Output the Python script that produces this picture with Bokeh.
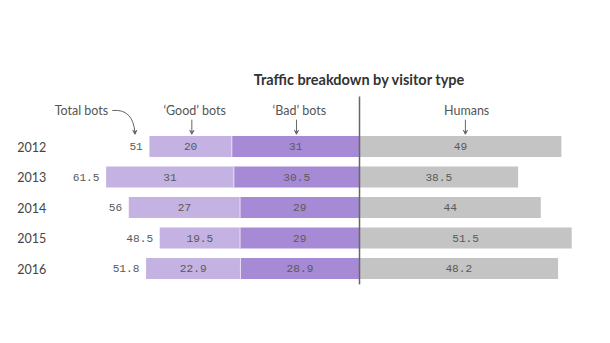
from bokeh.plotting import figure
from bokeh.models import ColumnDataSource, Range1d, Arrow, VeeHead, Label
from bokeh.core.properties import value
from bokeh.embed import file_html
from bokeh.resources import INLINE

years = ["2012", "2013", "2014", "2015", "2016"]
good_bots = [20, 31, 27, 19.5, 22.9]
bad_bots = [31, 30.5, 29, 29, 28.9]
total_bots = [51, 61.5, 56, 48.5, 51.8]
humans = [49, 38.5, 44, 51.5, 48.2]

def fmt(v):
    return ("%g" % v)

H = 0.69
rows = list(range(len(years)))
src = ColumnDataSource(dict(
    row=rows,
    year=years,
    good_left=[-t for t in total_bots],
    good_right=[-b for b in bad_bots],
    good_mid=[-(t + b) / 2 for t, b in zip(total_bots, bad_bots)],
    bad_left=[-b for b in bad_bots],
    bad_right=[0] * len(years),
    bad_mid=[-b / 2 for b in bad_bots],
    hum_right=humans,
    hum_mid=[h / 2 for h in humans],
    tot_x=[-t - 1.6 for t in total_bots],
    good_txt=[fmt(v) for v in good_bots],
    bad_txt=[fmt(v) for v in bad_bots],
    tot_txt=[fmt(v) for v in total_bots],
    hum_txt=[fmt(v) for v in humans],
    year_x=[-83.1] * len(years),
    top=[r - H / 2 for r in rows],
    bot=[r + H / 2 for r in rows],
))

p = figure(width=610, height=343, output_backend="svg", toolbar_location=None,
           x_range=Range1d(-87.14, 60.92), y_range=Range1d(6.459, -4.787),
           min_border=0, outline_line_color=None)
p.axis.visible = False
p.grid.visible = False
p.background_fill_color = "white"
p.border_fill_color = "white"

p.hbar(y="row", left="good_left", right="good_right", height=H, source=src,
       fill_color="#c4b2e2", line_color=None)
p.hbar(y="row", left="bad_left", right="bad_right", height=H, source=src,
       fill_color="#a78ad6", line_color=None)
p.hbar(y="row", left=0, right="hum_right", height=H, source=src,
       fill_color="#c4c4c4", line_color=None)
p.segment(x0="good_right", x1="good_right", y0="top", y1="bot", source=src,
          line_color="#e8e0f4", line_width=1)

mono = value("Liberation Mono")
sans = value("Lato")
for xcol, tcol, align in [("good_mid", "good_txt", "center"), ("bad_mid", "bad_txt", "center"),
                          ("hum_mid", "hum_txt", "center"), ("tot_x", "tot_txt", "right")]:
    p.text(x=xcol, y="row", text=tcol, source=src, text_font=mono,
           text_font_size="11.2px", text_color="#5a5a5a", text_align=align, text_baseline="middle")
p.text(x="year_x", y="row", text="year", source=src, text_font=sans,
       text_font_size="12.5px", text_color="#444444", text_align="left", text_baseline="middle")

p.segment(x0=[0], x1=[0], y0=[-1.64], y1=[4.52], line_color="#666666", line_width=1.5)

p.add_layout(Label(x=0, y=-2.2, text="Traffic breakdown by visitor type",
                   text_font="Lato", text_font_style="bold", text_font_size="14.5px",
                   text_color="#333333", text_align="center", text_baseline="middle"))

headers = ["Total bots", "\u2018Good\u2019 bots", "\u2018Bad\u2019 bots", "Humans"]
header_x = [-67.5, -40.0, -14.6, 26.0]
for t, x in zip(headers, header_x):
    p.add_layout(Label(x=x, y=-1.18, text=t, text_font="Lato", text_font_size="12.5px",
                       text_color="#555555", text_align="center", text_baseline="middle"))

arrow_x = [-40.7, -15.3, 25.7]
for x in arrow_x:
    p.add_layout(Arrow(x_start=x, y_start=-0.88, x_end=x, y_end=-0.40,
                       line_color="#666666", line_width=1,
                       end=VeeHead(size=4, line_color="#666666", fill_color="#666666", line_width=1)))

p.quadratic(x0=[-60.0], y0=[-1.18], x1=[-54.5], y1=[-0.45], cx=[-55.0], cy=[-1.25],
            line_color="#666666", line_width=1)
p.add_layout(Arrow(x_start=-54.55, y_start=-0.52, x_end=-54.5, y_end=-0.40,
                   line_color="#666666", line_width=1,
                   end=VeeHead(size=4, line_color="#666666", fill_color="#666666", line_width=1)))

open("out.html", "w").write(file_html(p, INLINE))
